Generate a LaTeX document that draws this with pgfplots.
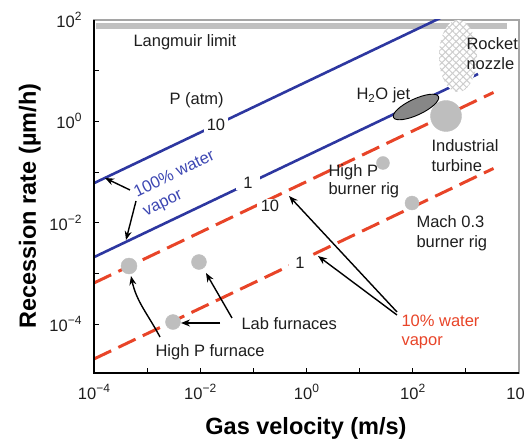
\documentclass[border=0pt]{standalone}
\usepackage{pgfplots}
\pgfplotsset{compat=1.18}
\usepackage{fontspec}
\setmainfont{Liberation Sans}
\usetikzlibrary{patterns.meta,arrows.meta}
\definecolor{lblue}{RGB}{45,55,160}
\definecolor{tblue}{RGB}{60,70,178}
\definecolor{lred}{RGB}{232,68,40}
\definecolor{ptgray}{RGB}{190,190,190}
\definecolor{bargray}{RGB}{192,192,192}
\definecolor{jetgray}{RGB}{135,135,135}
\definecolor{txt}{RGB}{30,30,30}
\newcommand\annfont{\fontsize{16.5}{20}\selectfont}
\newcommand\tickfont{\fontsize{16.5}{20}\selectfont}
\newcommand\labfont{\fontsize{23.5}{28}\selectfont\bfseries}
\newcommand\tp[1]{10\raisebox{0.42em}{\fontsize{12}{12}\selectfont #1}}
\pgfdeclareplotmark{jet}{%
  \pgfpathellipse{\pgfpointorigin}{\pgfpoint{22.5pt}{10.5pt}}{\pgfpoint{-3.4pt}{7.3pt}}%
  \pgfusepathqfillstroke}
\begin{document}
\begin{tikzpicture}[x=1pt,y=1pt]
\useasboundingbox (-94,-68) rectangle (431,373);
\begin{axis}[at={(0,0)}, anchor=south west, scale only axis,
  width=425pt, height=353pt,
  xmode=log, ymode=log,
  xmin=1e-4, xmax=1e4, ymin=1.08e-5, ymax=100,
  xtick={1e-4,1e-3,1e-2,1e-1,1,10,100,1000,10000},
  xticklabels={\tp{−4},,\tp{−2},,\tp{0},,\tp{2},,\tp{4}},
  ytick={1e-4,1e-3,1e-2,1e-1,1,10,100},
  yticklabels={\tp{−4},,\tp{−2},,\tp{0},,\tp{2}},
  tick pos=left,
  tick align=inside,
  major tick length=5pt,
  minor tick style={draw=none},
  tick style={black, line width=1pt},
  axis line style={draw={rgb,255:red,165;green,165;blue,165}, line width=1.2pt},
  tick label style={font=\tickfont, text=txt},
  xticklabel style={yshift=-8pt},
  yticklabel style={xshift=-9pt},
]
% Langmuir limit
\addplot[bargray, line width=6pt] coordinates {(1.09e-4,76.3) (5940,76.3)};
% 100% water vapor lines
\addplot[lblue, line width=2.6pt] coordinates {(1e-4,0.06026) (1000,190.5)};
\addplot[lblue, line width=2.6pt] coordinates {(1e-4,0.002089) (1698,8.61)};
% 10% water vapor lines
\addplot[lred, line width=3pt, dash pattern=on 19pt off 8pt] coordinates {(1e-4,6.457e-4) (3311,3.715)};
\addplot[lred, line width=3pt, dash pattern=on 19pt off 8pt] coordinates {(1e-4,2.042e-5) (3311,0.1175)};
% data points
\addplot[ptgray, only marks, mark=*, mark size=15.5pt, mark options={fill=ptgray, draw=none}] coordinates {(423,1.275)};
\addplot[ptgray, only marks, mark=*, mark size=6.5pt, mark options={fill=ptgray, draw=none}] coordinates {(27.5,0.1507)};
\addplot[ptgray, only marks, mark=*, mark size=7pt, mark options={fill=ptgray, draw=none}] coordinates {(96.8,0.02443)};
\addplot[ptgray, only marks, mark=*, mark size=8pt, mark options={fill=ptgray, draw=none}] coordinates {(4.56e-4,1.396e-3)};
\addplot[ptgray, only marks, mark=*, mark size=7.5pt, mark options={fill=ptgray, draw=none}] coordinates {(9.47e-3,1.675e-3) (3.07e-3,1.096e-4)};
% H2O jet
\addplot[black, only marks, mark=jet, mark options={fill=jetgray, draw=black, line width=0.9pt}] coordinates {(115,1.92)};
% Rocket nozzle
\fill[white] (axis cs:711,19.48) ellipse [x radius=19pt, y radius=36pt];
\fill[pattern={Lines[angle=45,distance=5pt,line width=1pt]}, pattern color={rgb,255:red,205;green,205;blue,205}] (axis cs:711,19.48) ellipse [x radius=19pt, y radius=36pt];
\fill[pattern={Lines[angle=-45,distance=5pt,line width=1pt]}, pattern color={rgb,255:red,205;green,205;blue,205}] (axis cs:711,19.48) ellipse [x radius=19pt, y radius=36pt];
\end{axis}
% left and bottom frame
\draw[black, line width=2pt] (0,353) -- (0,0) -- (425,0);
% axis labels
\node[font=\labfont, anchor=base] at (212,-62) {Gas velocity (m/s)};
\node[font=\labfont, anchor=base, rotate=90] at (-58,167) {Recession rate (µm/h)};
% annotations
\begin{scope}[every node/.style={font=\annfont, text=txt}]
\node[anchor=base west] at (36,326) {Langmuir limit};
\node[anchor=base west] at (72,268) {P (atm)};
\node[fill=white, inner xsep=3pt, inner ysep=1pt] at (122,248) {10};
\node[fill=white, inner xsep=7pt, inner ysep=1pt] at (154,190) {1};
\node[fill=white, inner xsep=3.5pt, inner ysep=1pt] at (176,167) {10};
\node[fill=white, inner xsep=6pt, inner ysep=1pt] at (206,110) {1};
\node[anchor=base west, text=tblue, rotate=26] at (40,174) {100\% water};
\node[anchor=base west, text=tblue, rotate=26] at (49,155) {vapor};
\node[anchor=base west] at (259,273) {H\textsubscript{2}O jet};
\node[anchor=base west] at (369,323) {Rocket};
\node[anchor=base west] at (369,303) {nozzle};
\node[anchor=base west] at (334,221) {Industrial};
\node[anchor=base west] at (334,201) {turbine};
\node[anchor=base west] at (231,196) {High P};
\node[anchor=base west] at (231,178) {burner rig};
\node[anchor=base west] at (319,145) {Mach 0.3};
\node[anchor=base west] at (319,125) {burner rig};
\node[anchor=base west] at (144,43) {Lab furnaces};
\node[anchor=base west] at (58,16) {High P furnace};
\node[anchor=base west, text=lred] at (304,46) {10\% water};
\node[anchor=base west, text=lred] at (304,27) {vapor};
\end{scope}
% arrows
\begin{scope}[black, line width=1.4pt, -{Stealth[length=9pt,width=7pt]}]
\draw (36,183) -- (11,195);
\draw (42,172) -- (32,133);
\draw (66,36) to[out=118, in=-78] (37,97);
\draw (138,55) -- (112,100);
\draw (126,50) -- (87,50);
\draw (303,61) -- (195,177);
\draw (303,58) -- (224,117);
\end{scope}
\end{tikzpicture}
\end{document}
